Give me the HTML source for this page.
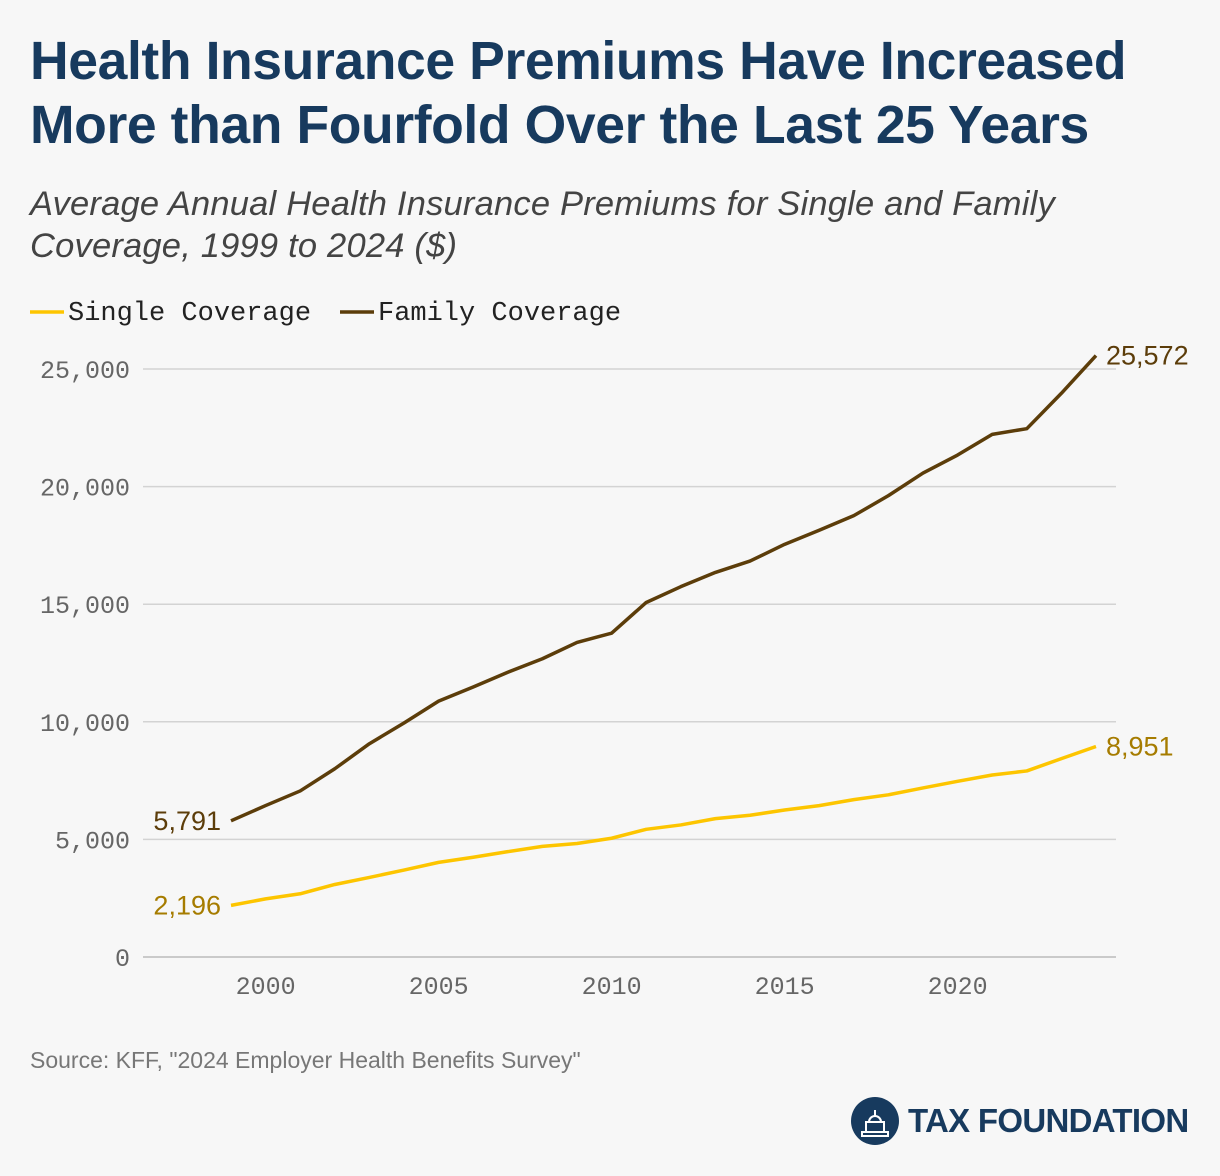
<!DOCTYPE html>
<html><head><meta charset="utf-8"><style>
body{margin:0;width:1220px;height:1176px;background:#f7f7f7;font-family:"Liberation Sans",sans-serif;overflow:hidden;position:relative}
.title{position:absolute;left:30px;top:30px;font-size:53.5px;font-weight:bold;color:#173a5e;line-height:64px;letter-spacing:-0.4px}
.sub{position:absolute;left:30px;top:183px;font-size:34.5px;font-style:italic;color:#444;line-height:42px;letter-spacing:0.2px}
.src{position:absolute;left:30px;top:1047px;font-size:23px;color:#777}
.logo{position:absolute;left:850px;top:1096px;display:flex;align-items:center}
.logo span{font-size:33px;font-weight:bold;color:#173a5e;letter-spacing:-0.7px;margin-left:8px}
</style></head><body>
<div class="title">Health Insurance Premiums Have Increased<br>More than Fourfold Over the Last 25 Years</div>
<div class="sub">Average Annual Health Insurance Premiums for Single and Family<br>Coverage, 1999 to 2024 ($)</div>
<svg id="chart" width="1220" height="1176" style="position:absolute;left:0;top:0"></svg>
<div class="src">Source: KFF, "2024 Employer Health Benefits Survey"</div>
<div class="logo">
<svg width="50" height="50" viewBox="0 0 50 50"><circle cx="25" cy="25" r="24" fill="#173a5e"/><path d="M12 40h26v-4H12zM16 36V26h18v10M19 26a6 6 0 0 1 12 0M25 14v6" stroke="#fff" stroke-width="2" fill="none"/></svg>
<span>TAX FOUNDATION</span></div>
<script>
const years=[1999,2000,2001,2002,2003,2004,2005,2006,2007,2008,2009,2010,2011,2012,2013,2014,2015,2016,2017,2018,2019,2020,2021,2022,2023,2024];
const single=[2196,2471,2689,3083,3383,3695,4024,4242,4479,4704,4824,5049,5429,5615,5884,6025,6251,6435,6690,6896,7188,7470,7739,7911,8435,8951];
const family=[5791,6438,7061,8003,9068,9950,10880,11480,12106,12680,13375,13770,15073,15745,16351,16834,17545,18142,18764,19616,20576,21342,22221,22463,23968,25572];
const yTicks=[0,5000,10000,15000,20000,25000];
const xTicks=[2000,2005,2010,2015,2020];
const svg=document.getElementById('chart');const NS='http://www.w3.org/2000/svg';
const x=v=>231+(v-1999)*34.6;
const y=v=>957-v*0.02352;
function mk(t,a,txt){const e=document.createElementNS(NS,t);for(const k in a)e.setAttribute(k,a[k]);if(txt!=null)e.textContent=txt;svg.appendChild(e);return e;}
yTicks.forEach(t=>{
const l=mk('line',{x1:143,x2:1116,y1:y(t),y2:y(t),stroke:t===0?'#bbb':'#d3d3d3','stroke-width':1.5});


const tx=mk('text',{x:130,y:y(t)+9,'text-anchor':'end','font-family':'Liberation Mono, monospace','font-size':25,fill:'#666'},t.toLocaleString('en-US'));


});
xTicks.forEach(t=>{
const tx=mk('text',{x:x(t),y:994,'text-anchor':'middle','font-family':'Liberation Mono, monospace','font-size':25,fill:'#666'},String(t));


});
function line(vals,color,name){
const p=mk('polyline',{points:vals.map((v,i)=>x(years[i])+','+y(v)).join(' '),fill:'none',stroke:color,'stroke-width':3.5,'stroke-linejoin':'round'});


}
line(single,'#fdc500','single-coverage-line');
line(family,'#5c3d0a','family-coverage-line');
const labs=[[single[0],'#a67c00',x(years[0])-10,'end'],[family[0],'#5c3d0a',x(years[0])-10,'end'],[single[single.length-1],'#a67c00',x(2024)+10,'start'],[family[family.length-1],'#5c3d0a',x(2024)+10,'start']];
labs.forEach(([v,c,px,a])=>{
const t=mk('text',{x:px,y:y(v)+9,'text-anchor':a,'font-size':27,fill:c},v.toLocaleString('en-US'));


});
const lg=[['Single Coverage','#fdc500',30],['Family Coverage','#5c3d0a',340]];
lg.forEach(([n,c,lx])=>{
const l=mk('line',{x1:lx,x2:lx+34,y1:312,y2:312,stroke:c,'stroke-width':3.5});


const t=mk('text',{x:lx+38,y:320,'font-family':'Liberation Mono, monospace','font-size':27,fill:'#222'},n);


});
</script>
</body></html>
